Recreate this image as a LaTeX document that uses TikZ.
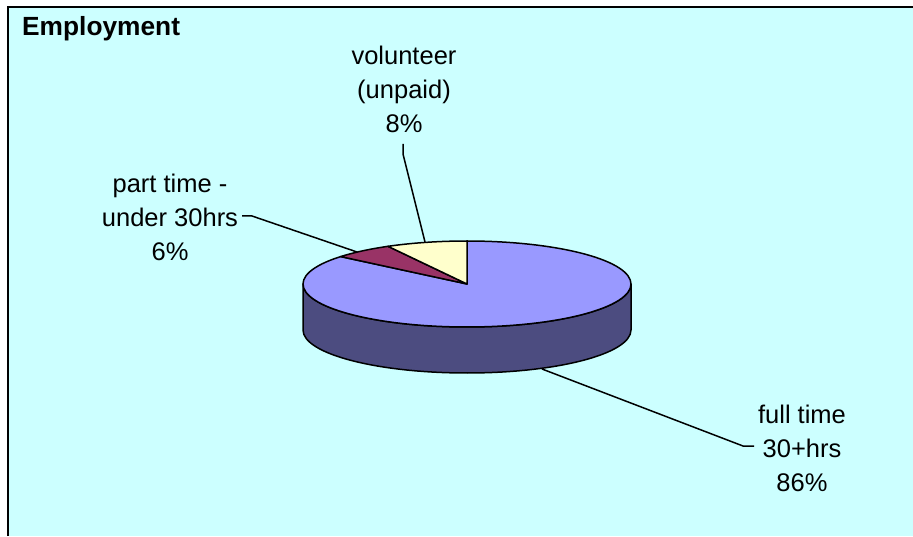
\documentclass[tikz,border=0pt]{standalone}
\usepackage{fontspec}
\usetikzlibrary{calc}
\setmainfont{Liberation Sans}
\definecolor{bgcyan}{RGB}{204,255,255}
\definecolor{fullc}{RGB}{153,153,255}
\definecolor{sidec}{RGB}{76,76,128}
\definecolor{partc}{RGB}{153,51,102}
\definecolor{volc}{RGB}{255,255,204}
\begin{document}
\begin{tikzpicture}[x=1pt,y=1pt,
  lbl/.style={align=center,font=\fontsize{25.5}{34}\selectfont,inner sep=0pt},
  ttl/.style={font=\fontsize{26.3}{30}\selectfont\bfseries,inner sep=0pt,anchor=west},
  slice/.style={draw=black,line width=1.5pt,line join=round},
  leader/.style={draw=black,line width=1.5pt}]
\useasboundingbox (0,0) rectangle (913,536);
\fill[white] (0,0) rectangle (913,536);
\fill[bgcyan] (8,0) rectangle (913,529);
\draw[line width=2.5pt] (8,0) -- (8,529) -- (913,529);
% pie geometry: centre (467,252), rx 164, ry 43, depth 46
\coordinate (c) at (467,252);
% side
\path[slice,fill=sidec] (303,252) -- (303,206)
  arc[start angle=180,end angle=360,x radius=164,y radius=43]
  -- (631,252)
  arc[start angle=0,end angle=-180,x radius=164,y radius=43] -- cycle;
% top slices
\path[slice,fill=fullc] (c) -- ($(c)+(140.4:164 and 43)$)
  arc[start angle=140.4,end angle=450,x radius=164,y radius=43] -- cycle;
\path[slice,fill=partc] (c) -- ($(c)+(118.8:164 and 43)$)
  arc[start angle=118.8,end angle=140.4,x radius=164,y radius=43] -- cycle;
\path[slice,fill=volc] (c) -- ($(c)+(90:164 and 43)$)
  arc[start angle=90,end angle=118.8,x radius=164,y radius=43] -- cycle;
% title
\node[ttl] (title) at (22,507) {Employment};
% labels
\node[lbl] (vol) at (404,447) {volunteer\\(unpaid)\\8\%};
\node[lbl] (part) at (170,319) {part time -\\under 30hrs\\6\%};
\node[lbl] (full) at (802,88) {full time\\30+hrs\\86\%};
% leader coordinates
\coordinate (volTick) at (403,392);
\coordinate (volBend) at (403,382);
\coordinate (volEnd) at (425,294);
\coordinate (partTick) at (242,320);
\coordinate (partBend) at (252,320);
\coordinate (partEnd) at (357,284);
\coordinate (fullEnd) at (542,167);
\coordinate (fullBend) at (743,90);
\coordinate (fullTick) at (754,90);
\draw[leader] (volTick) -- (volBend) -- (volEnd);
\draw[leader] (partTick) -- (partBend) -- (partEnd);
\draw[leader] (fullEnd) -- (fullBend) -- (fullTick);
\end{tikzpicture}
\end{document}
